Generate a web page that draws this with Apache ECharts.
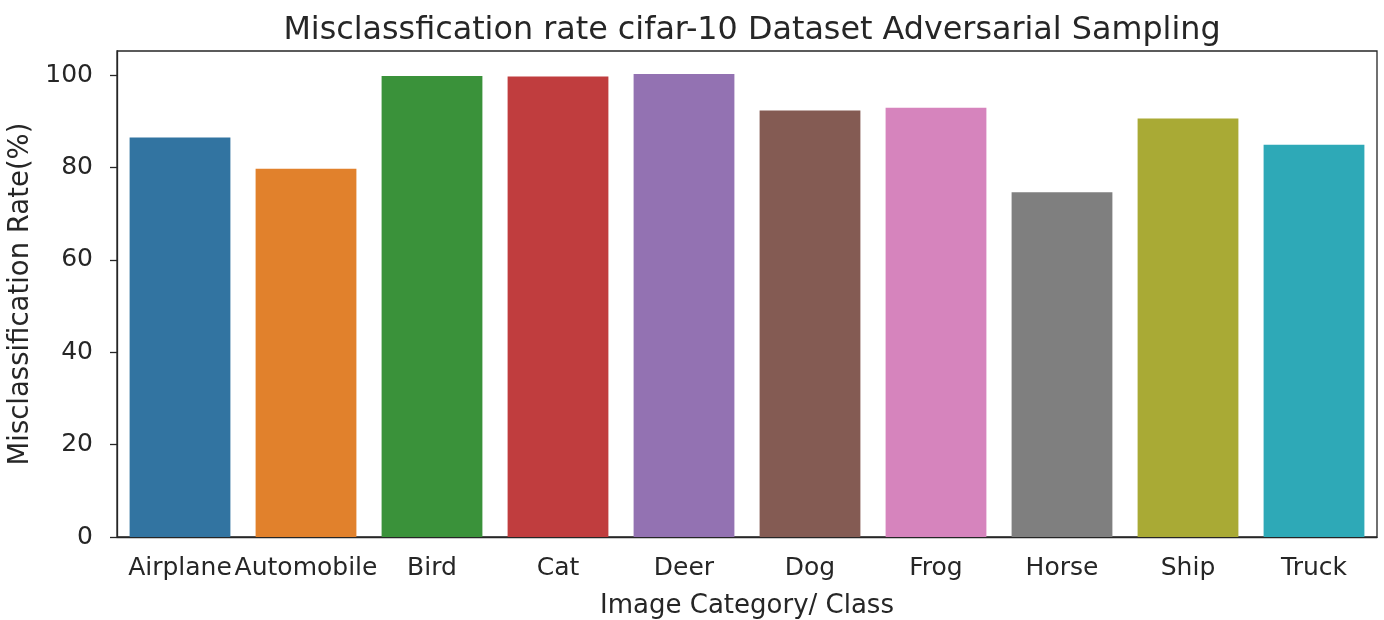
<!DOCTYPE html>
<html>
<head>
<meta charset="utf-8">
<script src="https://cdn.jsdelivr.net/npm/echarts@6/dist/echarts.min.js"></script>
<style>
  html, body { margin: 0; padding: 0; background: #fff; }
  #chart { width: 1384px; height: 620px; }
</style>
</head>
<body>
<div id="chart"></div>
<script>
// categories and misclassification rates (%)
const categories = ['Airplane', 'Automobile', 'Bird', 'Cat', 'Deer', 'Dog', 'Frog', 'Horse', 'Ship', 'Truck']
const rates = [86.5, 79.7, 99.8, 99.7, 100.2, 92.3, 92.9, 74.6, 90.6, 84.9]
const yTicks = [0, 20, 40, 60, 80, 100]
const barColors = ['#3274a1', '#e1812c', '#3a923a', '#c03d3e', '#9372b2', '#845b53', '#d684bd', '#7f7f7f', '#a9aa35', '#2ea9b7']

const font = 'DejaVu Sans'
const textColor = '#262626'

const chart = echarts.init(document.getElementById('chart'))

chart.setOption({
    animation: false,
    title: {
        text: 'Misclassfication rate cifar-10 Dataset Adversarial Sampling',
        left: 747,
        top: 10,
        textAlign: 'center',
        textStyle: { fontFamily: font, fontSize: 31.8, fontWeight: 'normal', color: textColor }
    },
    grid: {
        left: 117,
        right: 7,
        top: 51,
        bottom: 83,
        show: true,
        borderColor: '#262626',
        borderWidth: 1.3,
        containLabel: false,
        outerBoundsMode: 'none'
    },
    xAxis: {
        type: 'category',
        data: categories,
        name: 'Image Category/ Class',
        nameLocation: 'middle',
        nameGap: 56,
        nameTextStyle: { fontFamily: font, fontSize: 26, color: textColor },
        axisLine: { lineStyle: { color: '#262626', width: 1.3 } },
        axisTick: { alignWithLabel: true, length: 7, lineStyle: { color: '#262626', width: 1.3 } },
        axisLabel: { fontFamily: font, fontSize: 25, color: textColor, margin: 19, interval: 0 },
        splitLine: { show: false }
    },
    yAxis: {
        type: 'value',
        min: 0,
        max: 105.2,
        interval: 20,
        name: 'Misclassification Rate(%)',
        nameLocation: 'middle',
        nameGap: 76,
        nameTextStyle: { fontFamily: font, fontSize: 27.5, color: textColor },
        axisLine: { show: true, lineStyle: { color: '#262626', width: 1.3 } },
        axisTick: { show: true, length: 7, lineStyle: { color: '#262626', width: 1.3 } },
        axisLabel: {
            fontFamily: font, fontSize: 25, color: textColor, margin: 24,
            showMaxLabel: false,
            formatter: v => (yTicks.includes(v) ? String(v) : '')
        },
        splitLine: { show: false }
    },
    series: [
        {
            type: 'bar',
            barCategoryGap: '20%',
            data: rates.map((v, i) => ({ value: v, itemStyle: { color: barColors[i] } }))
        }
    ]
})
</script>
</body>
</html>
